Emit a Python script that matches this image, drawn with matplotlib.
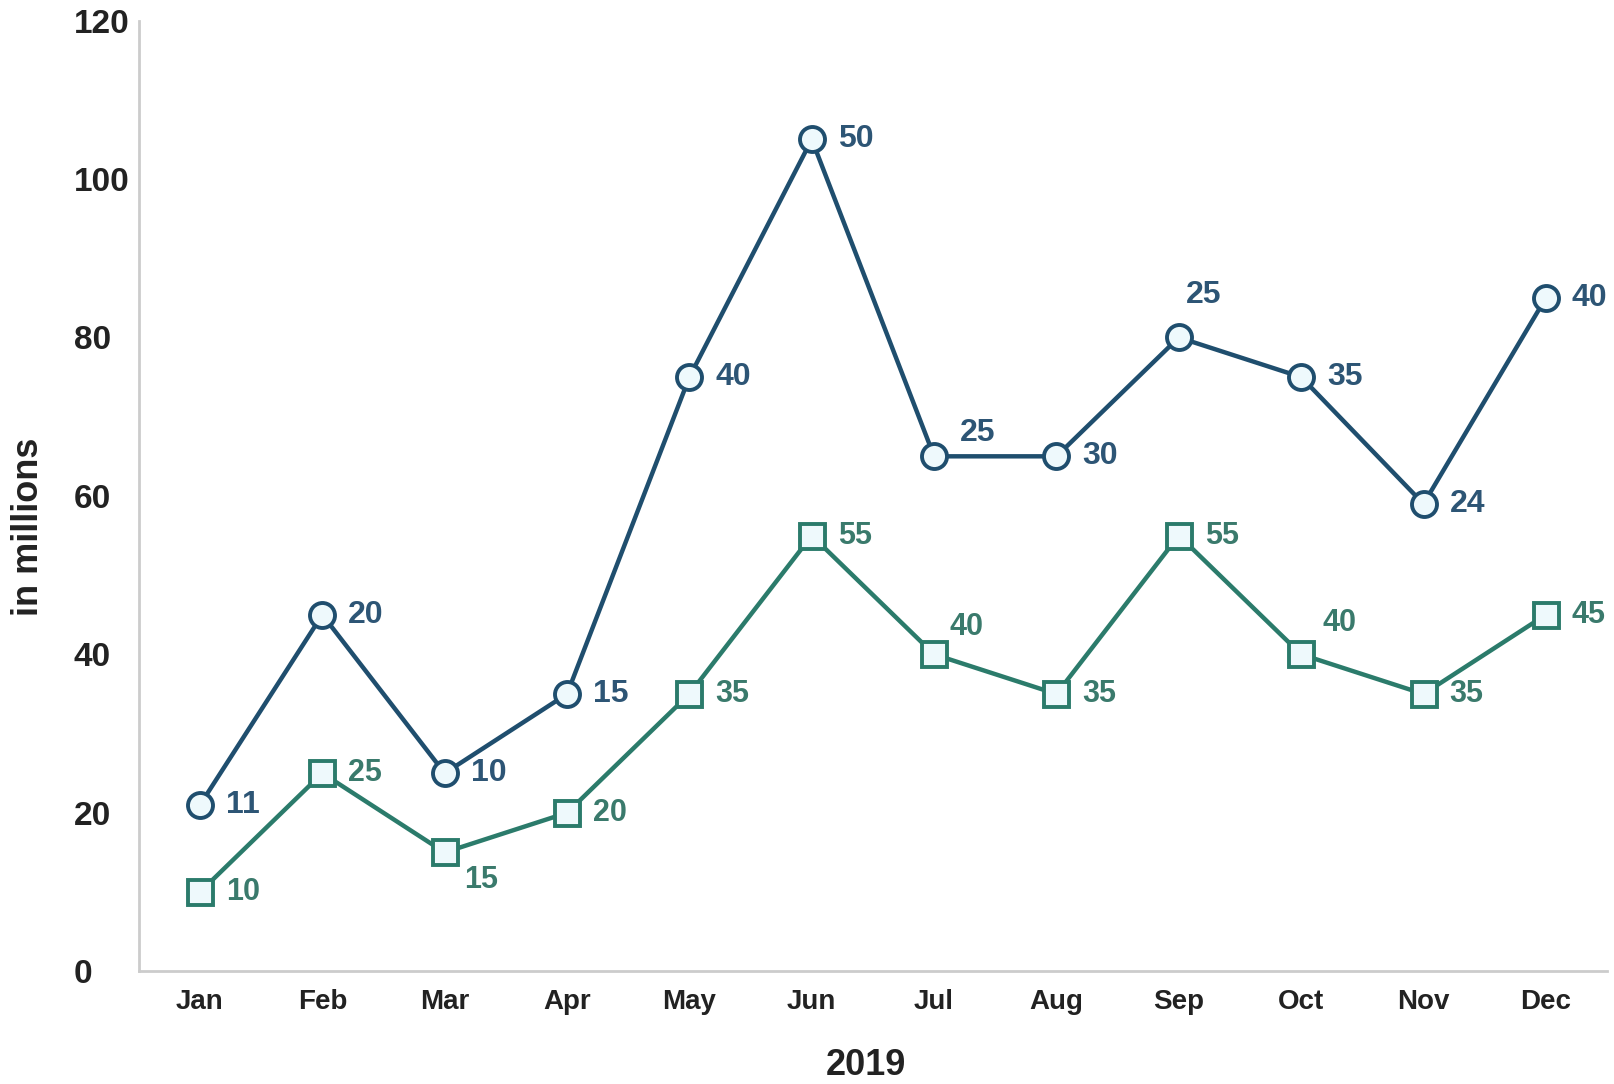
import matplotlib
matplotlib.use("Agg")
import matplotlib.pyplot as plt
import numpy as np

months = ["Jan", "Feb", "Mar", "Apr", "May", "Jun", "Jul", "Aug", "Sep", "Oct", "Nov", "Dec"]
series_bottom = [10, 25, 15, 20, 35, 55, 40, 35, 55, 40, 35, 45]
series_top = [11, 20, 10, 15, 40, 50, 25, 30, 25, 35, 24, 40]
y_ticks = [0, 20, 40, 60, 80, 100, 120]

# label offsets in pixels (style only)
off_top = [(26, 0)] * 12
off_top[6] = (26, 23)
off_top[8] = (7, 42)
off_bot = [(26, 0)] * 12
off_bot[2] = (19, -28)
off_bot[6] = (15, 27)
off_bot[9] = (21, 31)

plt.rcParams['font.family'] = ['Liberation Sans', 'DejaVu Sans']

fig = plt.figure(figsize=(16.14, 10.84), dpi=100)
ax = fig.add_axes([0.086, 0.104, 0.9097, 0.877])

x = np.arange(len(months))
bottom = np.array(series_bottom)
top = bottom + np.array(series_top)

blue = "#1f4e6e"
green = "#2b7b6b"
face = "#eef9fc"

ax.plot(x, top, color=blue, lw=3.2, marker='o', ms=18, mfc=face, mec=blue, mew=2.8, zorder=3)
ax.plot(x, bottom, color=green, lw=3.2, marker='s', ms=18, mfc=face, mec=green, mew=2.8, zorder=3)

for i in range(len(months)):
    ax.annotate(str(series_top[i]), (x[i], top[i]), xytext=off_top[i], textcoords='offset pixels',
                ha='left', va='center', fontsize=23, fontweight='bold', color="#2d5575")
    ax.annotate(str(series_bottom[i]), (x[i], bottom[i]), xytext=off_bot[i], textcoords='offset pixels',
                ha='left', va='center', fontsize=22, fontweight='bold', color="#3a7a6c")

ax.set_xlim(-0.5, 11.5)
ax.set_ylim(0, 120)
ax.set_yticks(y_ticks)
ax.set_yticklabels([str(v) for v in y_ticks], fontsize=24, fontweight='bold', color="#222222", ha='left')
ax.set_xticks(x)
ax.set_xticklabels(months, fontsize=20, fontweight='bold', color="#222222")
ax.tick_params(axis='both', length=0)
ax.tick_params(axis='y', pad=47)
ax.tick_params(axis='x', pad=13)

for s in ['top', 'right']:
    ax.spines[s].set_visible(False)
for s in ['left', 'bottom']:
    ax.spines[s].set_color("#cccccc")
    ax.spines[s].set_linewidth(2)

ax.set_xlabel("2019", fontsize=26, fontweight='bold', color="#222222")
ax.set_ylabel("in millions", fontsize=26, fontweight='bold', color="#222222")
ax.xaxis.set_label_coords(0.495, -0.081)
ax.yaxis.set_label_coords(-0.063, 0.467)

fig.savefig("out.png", dpi=100)
